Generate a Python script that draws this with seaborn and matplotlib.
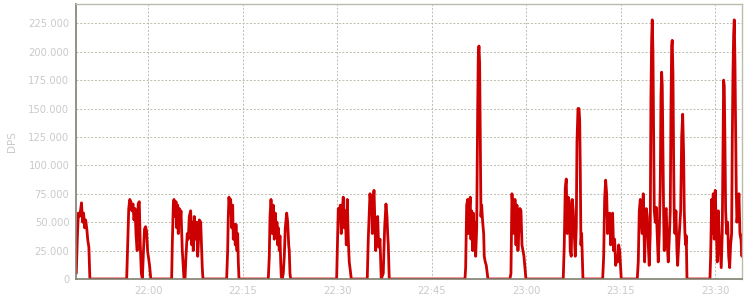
import numpy as np
import pandas as pd
import matplotlib
matplotlib.use("Agg")
import matplotlib.pyplot as plt
import matplotlib.dates as mdates
from matplotlib.ticker import FuncFormatter
import seaborn as sns

# ---- data: minutes after 22:00 and DPS (thousands), one pair per burst ----
b1_t = [-11.43, -11.27, -11.10, -10.94, -10.76, -10.60, -10.43, -10.27, -10.10, -9.94, -9.76, -9.60, -9.43, -9.27]
b1_v = [5, 35, 58, 55, 60, 67, 50, 58, 45, 52, 44, 34, 28, 0]

b2_t = [-3.43, -3.27, -3.10, -2.94, -2.76, -2.60, -2.43, -2.27, -2.10, -1.94, -1.76, -1.60, -1.43, -1.27,
        -1.10, -0.94, -0.76, -0.60, -0.43, -0.27, -0.10, 0.06, 0.24, 0.40]
b2_v = [0, 30, 62, 70, 68, 60, 66, 52, 62, 38, 25, 66, 68, 30, 5, 0, 25, 44, 46, 42, 24, 18, 10, 0]

b3_t = [3.71, 3.81, 3.97, 4.08, 4.24, 4.40, 4.51, 4.67, 4.76, 4.92, 5.03, 5.19, 5.30, 5.40, 5.56, 5.67]
b3_v = [0, 30, 65, 70, 55, 68, 45, 65, 40, 62, 48, 60, 40, 25, 10, 0]

b4_t = [5.83, 5.98, 6.19, 6.35, 6.51, 6.73, 6.89, 7.05, 7.14, 7.30, 7.46, 7.68, 7.84, 7.94, 8.10, 8.32, 8.48, 8.57, 8.68]
b4_v = [0, 20, 40, 35, 55, 60, 30, 50, 25, 55, 35, 50, 20, 30, 52, 50, 25, 10, 0]

b5_t = [12.44, 12.60, 12.70, 12.81, 12.97, 13.08, 13.24, 13.40, 13.49, 13.65, 13.81, 13.92, 14.08, 14.19, 14.29, 14.40]
b5_v = [0, 25, 55, 72, 60, 70, 45, 65, 35, 48, 30, 48, 25, 40, 15, 0]

b6_t = [19.05, 19.21, 19.32, 19.48, 19.59, 19.68, 19.84, 20.00, 20.16, 20.27, 20.43, 20.54, 20.63, 20.79, 20.90,
        21.02, 21.11, 21.27, 21.43, 21.59, 21.75, 21.97, 22.13, 22.29, 22.38, 22.49, 22.60]
b6_v = [0, 20, 55, 70, 60, 40, 65, 35, 58, 40, 50, 30, 45, 25, 38, 15, 2, 0, 5, 20, 45, 58, 50, 30, 25, 5, 0]

b7_t = [29.90, 30.00, 30.16, 30.32, 30.48, 30.63, 30.79, 30.95, 31.11, 31.27, 31.43, 31.59, 31.75, 31.90, 32.06, 32.22]
b7_v = [0, 25, 62, 55, 65, 40, 60, 72, 45, 60, 30, 70, 35, 15, 8, 0]

b8_t = [34.76, 34.92, 35.08, 35.19, 35.35, 35.46, 35.56, 35.71, 35.83, 35.98, 36.10, 36.25, 36.41, 36.57, 36.67,
        36.78, 36.89, 36.98, 37.30, 37.52, 37.73, 37.89, 38.00, 38.10, 38.25]
b8_v = [0, 35, 60, 75, 65, 73, 40, 70, 78, 50, 25, 45, 55, 28, 30, 35, 15, 0, 5, 45, 66, 55, 40, 30, 0]

b9_t = [50.27, 50.38, 50.54, 50.70, 50.79, 50.95, 51.11, 51.22, 51.33, 51.49, 51.59, 51.75, 51.86, 51.97, 52.13,
        52.29, 52.38, 52.49, 52.60, 52.70, 52.81, 52.92, 53.08, 53.24, 53.33, 53.49, 53.65, 53.81, 53.92]
b9_v = [0, 10, 65, 70, 40, 60, 72, 35, 60, 25, 58, 30, 50, 20, 45, 150, 195, 205, 190, 120, 55, 65, 50, 40, 20,
        15, 12, 5, 0]

b10_t = [57.41, 57.57, 57.73, 57.89, 58.05, 58.21, 58.37, 58.52, 58.68, 58.84, 59.00, 59.16, 59.32, 59.48, 59.63,
         59.79, 59.95]
b10_v = [0, 5, 75, 60, 40, 70, 30, 65, 25, 45, 62, 60, 30, 25, 20, 10, 0]

b11_t = [65.87, 66.03, 66.19, 66.35, 66.51, 66.67, 66.83, 66.98, 67.14, 67.30, 67.46, 67.62, 67.78, 67.94, 68.05,
         68.21, 68.37, 68.48, 68.57, 68.68, 68.79, 68.89, 69.00]
b11_v = [0, 30, 80, 88, 40, 72, 68, 25, 20, 70, 60, 40, 20, 45, 120, 150, 150, 140, 100, 30, 40, 20, 0]

b12_t = [72.13, 72.29, 72.44, 72.60, 72.76, 72.92, 73.08, 73.24, 73.40, 73.56, 73.71, 73.87, 74.03, 74.19, 74.35,
         74.51, 74.67, 74.83, 74.98, 75.08]
b12_v = [0, 20, 70, 87, 75, 40, 55, 58, 30, 50, 58, 25, 35, 12, 20, 15, 30, 25, 10, 0]

b13_t = [77.62, 77.78, 77.94, 78.10, 78.25, 78.41, 78.57, 78.68, 78.79, 78.89, 79.05, 79.21, 79.37, 79.52, 79.68,
         79.79, 79.90, 80.00, 80.11, 80.22, 80.32, 80.48, 80.63, 80.79, 80.95, 81.11, 81.27, 81.38, 81.49, 81.59,
         81.70, 81.81, 81.90, 82.06, 82.22, 82.38, 82.54, 82.70, 82.86, 82.97, 83.08, 83.17, 83.29, 83.40, 83.49,
         83.60, 83.76, 83.92, 84.03, 84.19, 84.35, 84.51, 84.67, 84.83, 84.98, 85.08, 85.19, 85.30, 85.40, 85.51]
b13_v = [0, 15, 60, 70, 50, 40, 75, 45, 15, 40, 62, 55, 30, 12, 40, 160, 210, 228, 200, 120, 60, 50, 63, 40, 15,
         40, 80, 160, 182, 170, 110, 55, 25, 60, 62, 30, 15, 35, 60, 150, 205, 210, 180, 100, 55, 40, 60, 25, 12,
         30, 45, 60, 125, 145, 110, 60, 40, 30, 38, 0]

b14_t = [89.16, 89.27, 89.43, 89.52, 89.68, 89.84, 90.00, 90.16, 90.32, 90.48, 90.63, 90.79, 90.95, 91.11, 91.22,
         91.33, 91.43, 91.54, 91.65, 91.81, 91.97, 92.13, 92.29, 92.44, 92.60, 92.70, 92.81, 92.92, 93.02, 93.13,
         93.24, 93.33, 93.44, 93.60, 93.76, 93.92, 94.08, 94.24, 94.40]
b14_v = [0, 20, 70, 40, 75, 35, 78, 45, 15, 60, 40, 25, 10, 40, 110, 175, 170, 120, 60, 40, 50, 20, 10, 30, 40,
         120, 180, 215, 228, 190, 130, 80, 50, 60, 75, 40, 35, 20, 40]

y_ticks = [0, 25000, 50000, 75000, 100000, 125000, 150000, 175000, 200000, 225000]
y_label = "DPS"

# ---- assemble ----
bursts_t = [b1_t, b2_t, b3_t, b4_t, b5_t, b6_t, b7_t, b8_t, b9_t, b10_t, b11_t, b12_t, b13_t, b14_t]
bursts_v = [b1_v, b2_v, b3_v, b4_v, b5_v, b6_v, b7_v, b8_v, b9_v, b10_v, b11_v, b12_v, b13_v, b14_v]
minutes = np.concatenate([np.asarray(t, float) for t in bursts_t])
values = np.concatenate([np.asarray(v, float) for v in bursts_v]) * 1000
base = pd.Timestamp("2024-01-01 22:00:00")
df = pd.DataFrame({"time": base + pd.to_timedelta(minutes, unit="min"), "dps": values})

sns.set_style("white")
plt.rcParams["font.family"] = ["DejaVu Sans"]

fig = plt.figure(figsize=(7.5, 3.0), dpi=100)
ax = fig.add_axes([0.1017, 0.07, 0.888, 0.9157])

sns.lineplot(data=df, x="time", y="dps", estimator=None, sort=False, color="#cc0000",
             linewidth=2.0, ax=ax)

ax.set_xlim(base + pd.Timedelta(minutes=-11.43), base + pd.Timedelta(minutes=94.29))
ax.set_ylim(0, 241700)
ax.set_yticks(y_ticks)
ax.yaxis.set_major_formatter(FuncFormatter(lambda v, p: f"{int(round(v)):,}".replace(",", ".")))
ax.xaxis.set_major_locator(mdates.MinuteLocator(byminute=[0, 15, 30, 45]))
ax.xaxis.set_major_formatter(mdates.DateFormatter("%H:%M"))

grid_col = "#bcbcae"
ax.grid(True, color=grid_col, linestyle=(0, (2.0, 1.8)), linewidth=0.7)
ax.set_axisbelow(True)

for side in ["left", "bottom"]:
    ax.spines[side].set_color("#808070")
    ax.spines[side].set_linewidth(1.2)
for side in ["top", "right"]:
    ax.spines[side].set_color("#bcbcac")
    ax.spines[side].set_linewidth(1.0)

ax.tick_params(axis="both", which="major", labelsize=7.2, labelcolor="#cacaca",
               color="#808070", length=3, width=0.8, pad=2)
ax.set_xlabel("")
ax.set_ylabel(y_label, fontsize=7.5, color="#cacaca", labelpad=8)

fig.savefig("out.png", dpi=100)
